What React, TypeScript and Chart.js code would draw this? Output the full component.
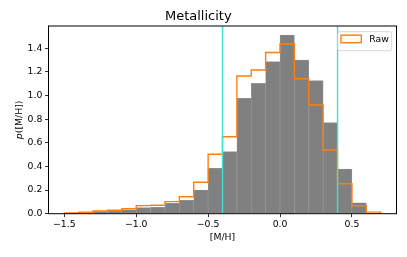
import React, { useEffect, useRef } from "react";
import { Chart, registerables } from "chart.js";

Chart.register(...registerables);

// ---- data ----
const binEdges = [
  -1.5, -1.4, -1.3, -1.2, -1.1, -1.0, -0.9, -0.8, -0.7, -0.6, -0.5, -0.4,
  -0.3, -0.2, -0.1, 0.0, 0.1, 0.2, 0.3, 0.4, 0.5, 0.6, 0.7,
];
const densityValues = [
  0.004, 0.008, 0.018, 0.02, 0.034, 0.051, 0.054, 0.088, 0.113, 0.2, 0.384,
  0.525, 0.977, 1.103, 1.287, 1.513, 1.301, 1.126, 0.771, 0.378, 0.092, 0.004,
];
const rawValues = [
  0.006, 0.012, 0.023, 0.029, 0.043, 0.068, 0.071, 0.102, 0.144, 0.266, 0.503,
  0.652, 1.166, 1.217, 1.365, 1.437, 1.143, 0.92, 0.539, 0.254, 0.067, 0.013,
];
const cutLines = [-0.4, 0.4];
const xTickStep = 0.5;
const yTickStep = 0.2;
const xRange = [-1.61, 0.81];
const yRange = [0, 1.589];
const titleText = "Metallicity";
const xLabel = "[M/H]";
const legendLabel = "Raw";

const FONT = "'DejaVu Sans', sans-serif";
const TICK_SIZE = 9.3;
const ORANGE = "#ff7f0e";

const fmt = (v: number) => {
  const r = Math.round(v * 10) / 10;
  if (Math.abs(r) < 1e-9) return "0.0";
  return r < 0 ? "\u2212" + Math.abs(r).toFixed(1) : r.toFixed(1);
};

export default function App() {
  const ref = useRef<HTMLCanvasElement | null>(null);

  useEffect(() => {
    if (!ref.current) return;

    const barData = densityValues.map((v, i) => ({
      x: (binEdges[i] + binEdges[i + 1]) / 2,
      y: v,
    }));
    const stepData: { x: number; y: number }[] = [{ x: binEdges[0], y: 0 }];
    rawValues.forEach((v, i) => stepData.push({ x: binEdges[i + 1], y: v }));
    stepData.push({ x: binEdges[binEdges.length - 1], y: 0 });

    const extras = {
      id: "extras",
      afterDatasetsDraw(chart: any) {
        const { ctx, chartArea: a, scales } = chart;
        const xs = scales.x;
        ctx.save();
        // vertical cut lines
        ctx.strokeStyle = "#40e0d0";
        ctx.lineWidth = 1.4;
        cutLines.forEach((v) => {
          const px = xs.getPixelForValue(v);
          ctx.beginPath();
          ctx.moveTo(px, a.top);
          ctx.lineTo(px, a.bottom);
          ctx.stroke();
        });
        // spines
        ctx.strokeStyle = "#000";
        ctx.lineWidth = 1;
        ctx.strokeRect(a.left, a.top, a.right - a.left, a.bottom - a.top);
        // legend
        const lw = 54;
        const lh = 19;
        const lx = a.right - 4.8 - lw;
        const ly = a.top + 5.7;
        ctx.beginPath();
        const r = 2;
        ctx.moveTo(lx + r, ly);
        ctx.lineTo(lx + lw - r, ly);
        ctx.arcTo(lx + lw, ly, lx + lw, ly + r, r);
        ctx.lineTo(lx + lw, ly + lh - r);
        ctx.arcTo(lx + lw, ly + lh, lx + lw - r, ly + lh, r);
        ctx.lineTo(lx + r, ly + lh);
        ctx.arcTo(lx, ly + lh, lx, ly + lh - r, r);
        ctx.lineTo(lx, ly + r);
        ctx.arcTo(lx, ly, lx + r, ly, r);
        ctx.closePath();
        ctx.fillStyle = "rgba(255,255,255,0.8)";
        ctx.fill();
        ctx.strokeStyle = "#cccccc";
        ctx.lineWidth = 0.8;
        ctx.stroke();
        ctx.strokeStyle = ORANGE;
        ctx.lineWidth = 1.4;
        ctx.strokeRect(lx + 3.3, ly + 3.5, 20.3, 7.5);
        ctx.fillStyle = "#000";
        ctx.font = `${TICK_SIZE}px ${FONT}`;
        ctx.textAlign = "left";
        ctx.textBaseline = "middle";
        ctx.fillText(legendLabel, lx + 31.5, ly + 7.5);
        // y-axis label with italic p
        const cy = (a.top + a.bottom) / 2;
        ctx.translate(19.2, cy);
        ctx.rotate(-Math.PI / 2);
        const f1 = `italic ${TICK_SIZE}px ${FONT}`;
        const f2 = `${TICK_SIZE}px ${FONT}`;
        ctx.font = f1;
        const w1 = ctx.measureText("p").width;
        ctx.font = f2;
        const w2 = ctx.measureText("([M/H])").width;
        const start = -(w1 + w2) / 2;
        ctx.textBaseline = "middle";
        ctx.font = f1;
        ctx.fillText("p", start, 0);
        ctx.font = f2;
        ctx.fillText("([M/H])", start + w1, 0);
        ctx.restore();
      },
    };

    const chart = new Chart(ref.current, {
      type: "bar",
      data: {
        datasets: [
          {
            type: "line",
            label: legendLabel,
            data: stepData,
            borderColor: ORANGE,
            borderWidth: 1.4,
            pointRadius: 0,
            fill: false,
            stepped: "after",
            order: 0,
          } as any,
          {
            type: "bar",
            label: "density",
            data: barData,
            backgroundColor: "#808080",
            borderColor: "#9c9c9c",
            borderWidth: 0.6,
            borderSkipped: "start",
            barPercentage: 1,
            categoryPercentage: 1,
            order: 1,
          } as any,
        ],
      },
      options: {
        responsive: false,
        animation: false,
        events: [],
        layout: { padding: { left: 0, right: 10.5, top: 0, bottom: 0 } },
        plugins: {
          legend: { display: false },
          tooltip: { enabled: false },
          title: {
            display: true,
            text: titleText,
            color: "#000",
            font: { family: FONT, size: 13, weight: "normal" },
            padding: { top: 8.4, bottom: 2 },
          },
        },
        scales: {
          x: {
            type: "linear",
            offset: false,
            min: xRange[0],
            max: xRange[1],
            afterFit: (s: any) => {
              s.height = 43.3;
            },
            grid: {
              offset: false,
              drawOnChartArea: false,
              drawTicks: true,
              tickLength: 3.5,
              color: "#000",
              lineWidth: 0.8,
            },
            border: { display: false },
            ticks: {
              stepSize: xTickStep,
              includeBounds: false,
              padding: 2.2,
              color: "#000",
              font: { family: FONT, size: TICK_SIZE },
              maxRotation: 0,
              autoSkip: false,
              callback: (v: any) => fmt(Number(v)),
            },
            title: {
              display: true,
              text: xLabel,
              color: "#000",
              font: { family: FONT, size: TICK_SIZE },
              padding: { top: 0, bottom: 14 },
            },
          },
          y: {
            type: "linear",
            min: yRange[0],
            max: yRange[1],
            afterFit: (s: any) => {
              s.width = 48.5;
            },
            grid: {
              drawOnChartArea: false,
              drawTicks: true,
              tickLength: 3.5,
              color: "#000",
              lineWidth: 0.8,
            },
            border: { display: false },
            ticks: {
              stepSize: yTickStep,
              includeBounds: false,
              padding: 2.7,
              color: "#000",
              font: { family: FONT, size: TICK_SIZE },
              callback: (v: any) => fmt(Number(v)),
            },
          },
        },
      },
      plugins: [extras],
    } as any);

    return () => chart.destroy();
  }, []);

  return (
    <div style={{ position: "fixed", left: 0, top: 0, width: 407, height: 257, background: "#fff" }}>
      <canvas ref={ref} width={407} height={257} style={{ display: "block", width: 407, height: 257 }} />
    </div>
  );
}
